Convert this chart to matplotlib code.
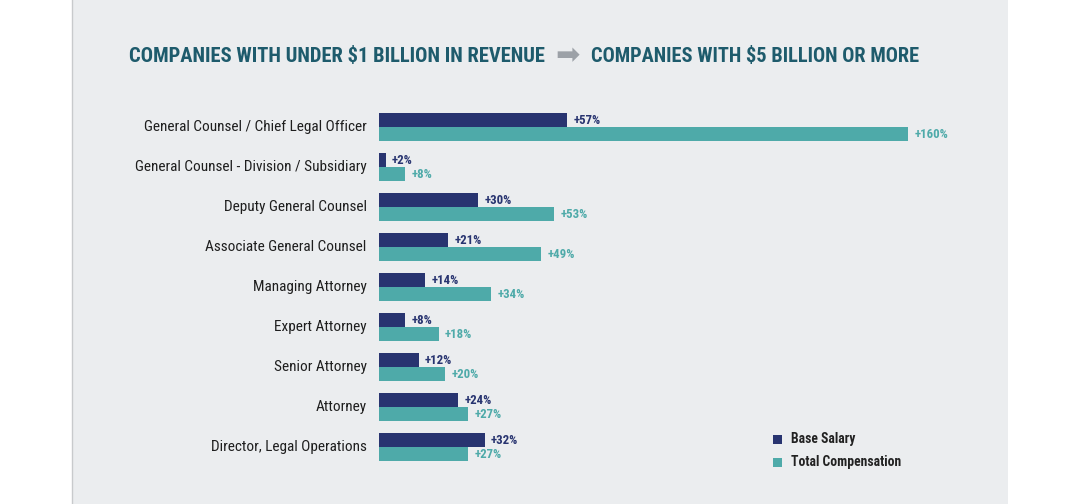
import numpy as np
import matplotlib.pyplot as plt
from matplotlib.patches import Rectangle
from matplotlib.lines import Line2D

categories = ["General Counsel / Chief Legal Officer",
              "General Counsel - Division / Subsidiary",
              "Deputy General Counsel",
              "Associate General Counsel",
              "Managing Attorney",
              "Expert Attorney",
              "Senior Attorney",
              "Attorney",
              "Director, Legal Operations"]
base_salary = [57, 2, 30, 21, 14, 8, 12, 24, 32]
total_comp = [160, 8, 53, 49, 34, 18, 20, 27, 27]
series_names = ["Base Salary", "Total Compensation"]

NAVY = "#283470"
TEAL = "#4eaaa9"
TITLE = "#1e5b6c"
BG = "#ebedef"
FONT = ["Roboto Condensed", "Barlow Condensed", "Saira SemiCondensed", "DejaVu Sans"]

W, H = 1080, 504
fig = plt.figure(figsize=(W / 100, H / 100), dpi=100, facecolor="white")

# grey panel behind the chart
fig.patches.append(Rectangle((72 / W, 0), (1008 - 72) / W, 1, transform=fig.transFigure,
                             facecolor=BG, edgecolor="none", zorder=-2))
fig.lines.append(Line2D([72 / W, 72 / W], [0, 1], transform=fig.transFigure,
                        color="#c8cacc", lw=1, zorder=-1))

# title
ty = 1 - 56 / H
fig.text(129 / W, ty, "COMPANIES WITH UNDER $1 BILLION IN REVENUE", color=TITLE,
         fontsize=14.8, fontweight="bold", family=FONT, va="center", ha="left")
fig.text(568 / W, ty, "\u27a1", color="#9ca1a7", fontsize=21, family=["DejaVu Sans"],
         va="center", ha="center")
fig.text(591 / W, ty, "COMPANIES WITH $5 BILLION OR MORE", color=TITLE,
         fontsize=14.7, fontweight="bold", family=FONT, va="center", ha="left")

ax = fig.add_axes([379 / W, 0, (1008 - 379) / W, 1])
ax.set_facecolor("none")
ax.set_zorder(2)
y = np.arange(len(categories))
h = 0.35
ax.barh(y - h / 2, base_salary, height=h, color=NAVY)
ax.barh(y + h / 2, total_comp, height=h, color=TEAL)

for i in range(len(categories)):
    ax.annotate("+%d%%" % base_salary[i], (base_salary[i], y[i] - h / 2), xytext=(4.5, 0),
                textcoords="offset points", va="center", ha="left", fontsize=9.3,
                fontweight="bold", color=NAVY, family=FONT, annotation_clip=False)
    ax.annotate("+%d%%" % total_comp[i], (total_comp[i], y[i] + h / 2), xytext=(4.5, 0),
                textcoords="offset points", va="center", ha="left", fontsize=9.3,
                fontweight="bold", color=TEAL, family=FONT, annotation_clip=False)
    ax.annotate(categories[i], (0, y[i]), xytext=(-9, 0), textcoords="offset points",
                va="center", ha="right", fontsize=11, color="#1e1e1e",
                family=FONT, annotation_clip=False)

ax.set_xlim(0, 160 * 629 / 529)
ax.set_ylim((H - 127) / 40, -127 / 40)
ax.axis("off")

# legend
for k, (name, col) in enumerate(zip(series_names, [NAVY, TEAL])):
    yy = 1 - (439 + 23 * k) / H
    fig.patches.append(Rectangle((773 / W, yy - 4.5 / H), 9 / W, 9 / H,
                                 transform=fig.transFigure, facecolor=col, edgecolor="none"))
    fig.text(791 / W, yy, name, fontsize=9.8, fontweight="bold", color="#222222",
             family=FONT, va="center", ha="left")

fig.savefig("out.png", dpi=100, facecolor="white")
